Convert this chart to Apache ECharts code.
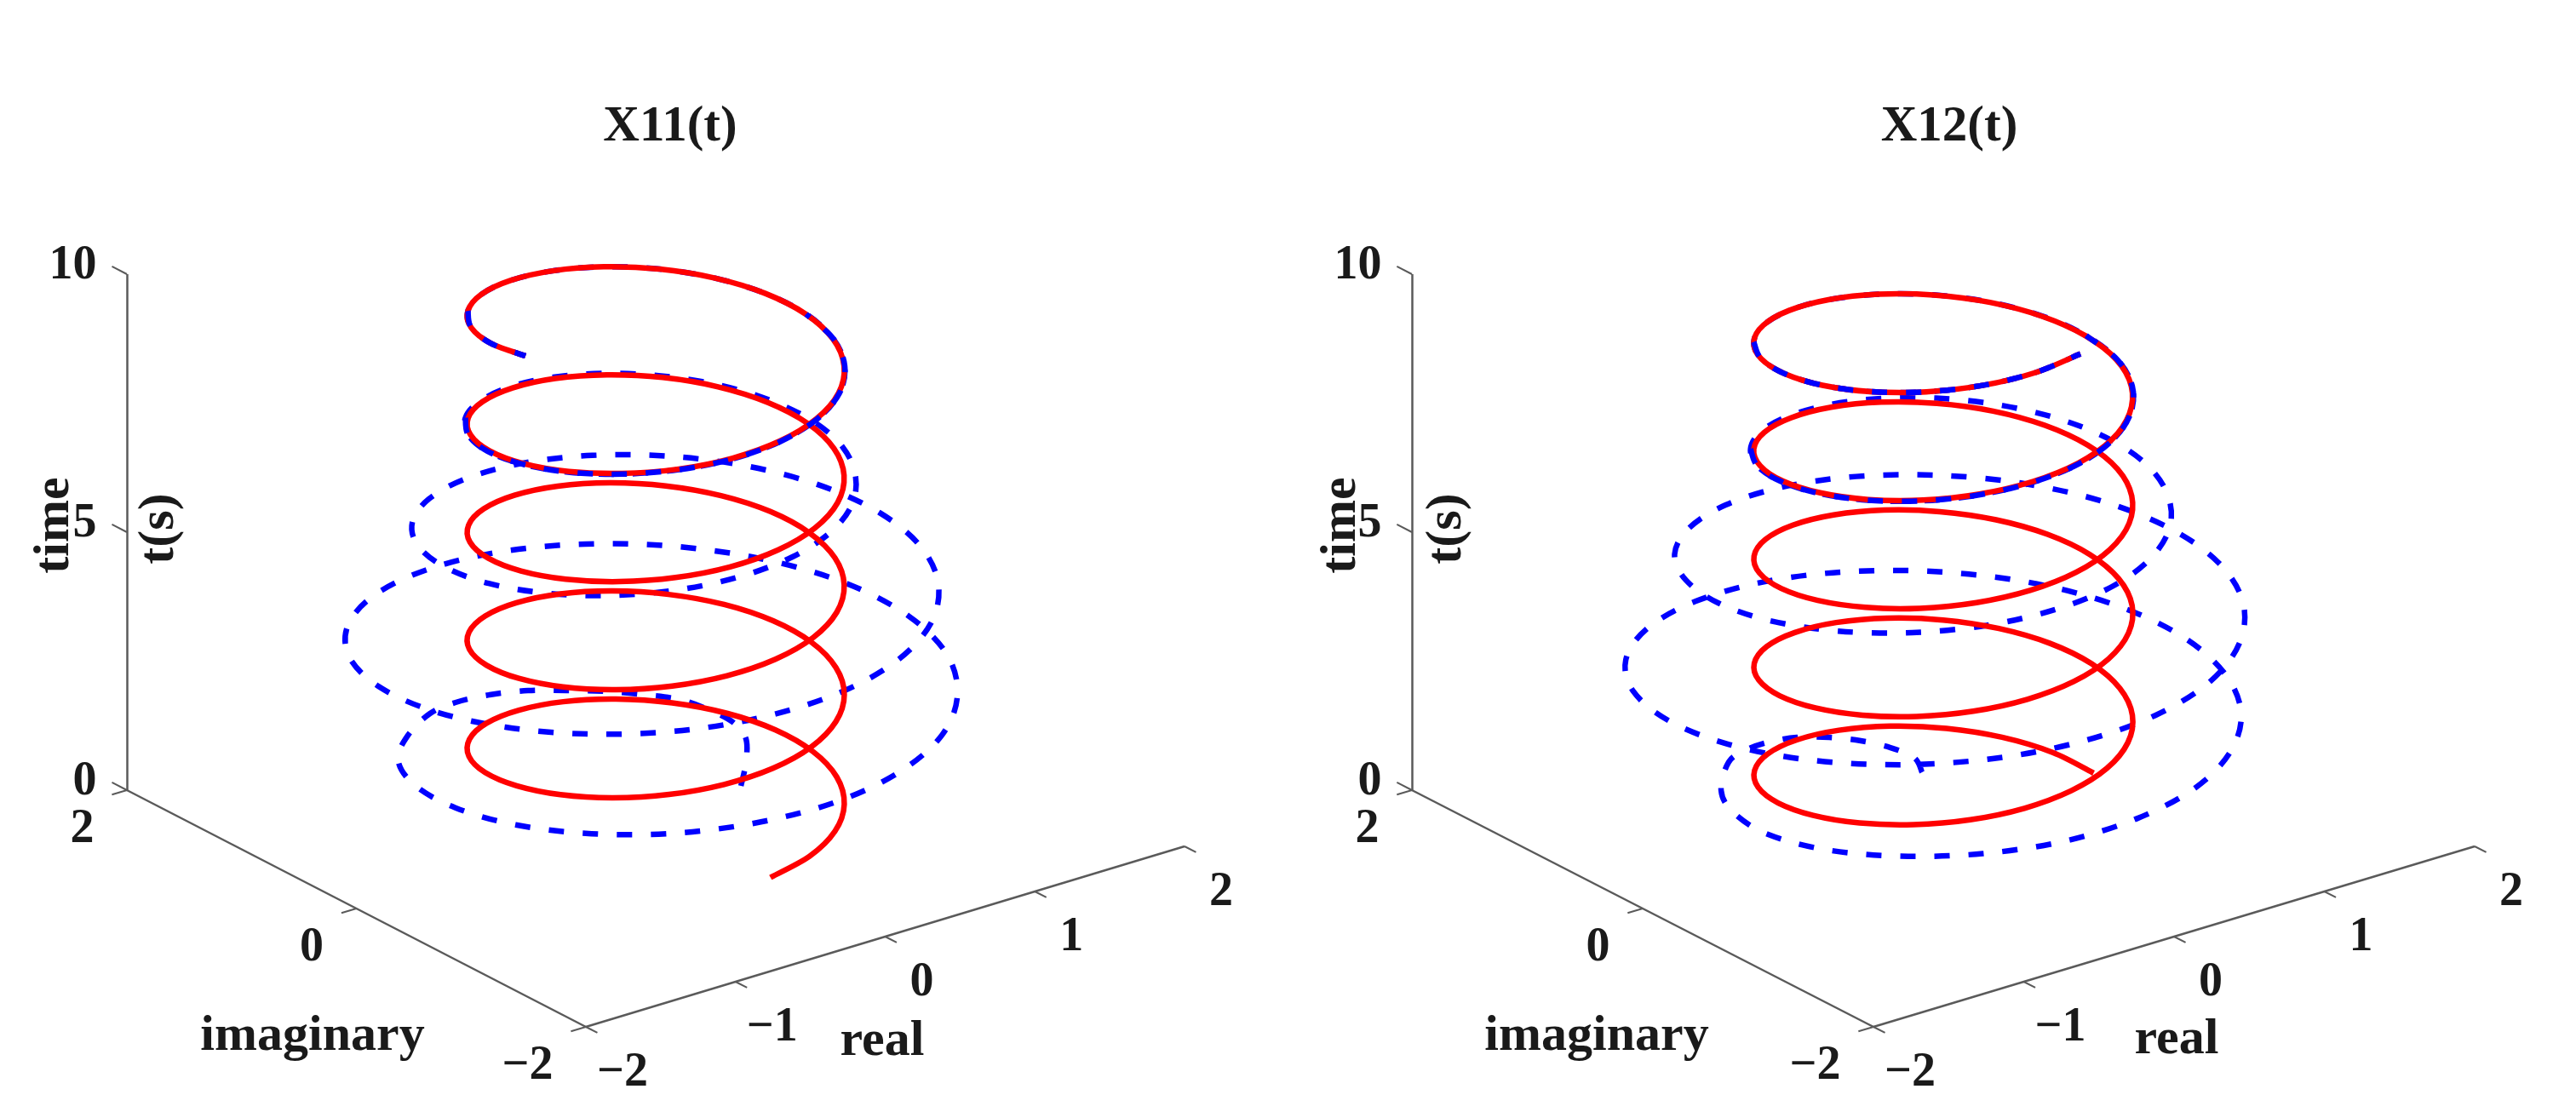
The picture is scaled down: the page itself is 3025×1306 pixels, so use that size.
<!DOCTYPE html>
<html>
<head>
<meta charset="utf-8">
<style>html,body{margin:0;padding:0;background:#fff}#c{width:3025px;height:1306px}</style>
<script src="https://cdn.jsdelivr.net/npm/echarts@6/dist/echarts.min.js"></script>
</head>
<body>
<div id="c"></div>
<script>
const titles = ['X11(t)', 'X12(t)'];
const realTicks = [-2, -1, 0, 1, 2];
const imagTicks = [-2, 0, 2];
const timeTicks = [0, 5, 10];

const time = [0,0.1,0.2,0.3,0.4,0.5,0.6,0.7,0.8,0.9,1,1.1,1.2,1.3,1.4,1.5,1.6,1.7,1.8,1.9,2,2.1,2.2,2.3,2.4,2.5,2.6,2.7,2.8,2.9,3,3.1,3.2,3.3,3.4,3.5,3.6,3.7,3.8,3.9,4,4.1,4.2,4.3,4.4,4.5,4.6,4.7,4.8,4.9,5,5.1,5.2,5.3,5.4,5.5,5.6,5.7,5.8,5.9,6,6.1,6.2,6.3,6.4,6.5,6.6,6.7,6.8,6.9,7,7.1,7.2,7.3,7.4,7.5,7.6,7.7,7.8,7.9,8,8.1,8.2,8.3,8.4,8.5,8.6,8.7,8.8,8.9,9,9.1,9.2,9.3,9.4,9.5,9.6,9.7,9.8,9.9,10];

const x11RedReal = [0,.296,.565,.783,.932,.997,.974,.863,.675,.427,.141,-.158,-.443,-.688,-.872,-.978,-.996,-.926,-.773,-.551,-.279,.017,.312,.579,.794,.938,.999,.970,.855,.661,.412,.125,-.175,-.458,-.700,-.880,-.981,-.995,-.920,-.762,-.537,-.263,.033,.328,.592,.804,.944,.999,.966,.846,.650,.397,.108,-.191,-.473,-.712,-.888,-.984,-.993,-.913,-.751,-.522,-.248,.050,.343,.605,.813,.949,1,.961,.837,.638,.382,.092,-.207,-.488,-.724,-.895,-.987,-.991,-.906,-.738,-.507,-.232,.067,.359,.619,.823,.954,1,.956,.827,.625,.366,.075,-.223,-.503,-.735,-.902,-.989,-.988];
const x11RedImag = [-1,-.955,-.825,-.622,-.362,-.071,.227,.505,.737,.904,.990,.987,.897,.726,.490,.211,-.087,-.378,-.635,-.835,-.960,-1,-.950,-.815,-.608,-.347,-.054,.243,.519,.750,.911,.993,.985,.889,.714,.476,.194,-.104,-.393,-.648,-.844,-.965,-1,-.945,-.806,-.594,-.331,-.037,.260,.534,.760,.918,.995,.982,.881,.702,.460,.178,-.121,-.408,-.660,-.853,-.970,-.999,-.939,-.796,-.581,-.315,-.021,.276,.548,.771,.924,.996,.978,.873,.690,.446,.162,-.138,-.424,-.672,-.862,-.974,-.998,-.933,-.786,-.568,-.299,-.004,.292,.562,.781,.931,.997,.975,.865,.678,.431,.145,-.154];
const x12RedReal = [1,.955,.825,.622,.362,.071,-.227,-.505,-.737,-.904,-.990,-.987,-.897,-.726,-.490,-.211,.087,.378,.635,.835,.960,1,.950,.815,.608,.347,.054,-.243,-.519,-.750,-.911,-.993,-.985,-.889,-.714,-.476,-.194,.104,.393,.648,.844,.965,1,.945,.806,.594,.331,.037,-.260,-.534,-.760,-.918,-.995,-.982,-.881,-.702,-.460,-.178,.121,.408,.660,.853,.970,.999,.939,.796,.581,.315,.021,-.276,-.548,-.771,-.924,-.996,-.978,-.873,-.690,-.446,-.162,.138,.424,.672,.862,.974,.998,.933,.786,.568,.299,.004,-.292,-.562,-.781,-.931,-.997,-.975,-.865,-.678,-.431,-.145,.154];
const x12RedImag = [0,.296,.565,.783,.932,.997,.974,.863,.675,.427,.141,-.158,-.443,-.688,-.872,-.978,-.996,-.926,-.773,-.551,-.279,.017,.312,.579,.794,.938,.999,.970,.855,.661,.412,.125,-.175,-.458,-.700,-.880,-.981,-.995,-.920,-.762,-.537,-.263,.033,.328,.592,.804,.944,.999,.966,.846,.650,.397,.108,-.191,-.473,-.712,-.888,-.984,-.993,-.913,-.751,-.522,-.248,.050,.343,.605,.813,.949,1,.961,.837,.638,.382,.092,-.207,-.488,-.724,-.895,-.987,-.991,-.906,-.738,-.507,-.232,.067,.359,.619,.823,.954,1,.956,.827,.625,.366,.075,-.223,-.503,-.735,-.902,-.989,-.988];

const x11BlueReal = [.624,.798,.944,.980,.946,.864,.713,.534,.330,.126,-.113,-.361,-.602,-.915,-1.203,-1.379,-1.434,-1.361,-1.156,-.838,-.430,.027,.491,.921,1.270,1.515,1.623,1.586,1.402,1.087,.679,.206,-.289,-.756,-1.154,-1.448,-1.609,-1.624,-1.492,-1.227,-.859,-.416,.051,.505,.900,1.206,1.397,1.459,1.391,1.201,.910,.548,.147,-.256,-.624,-.926,-1.137,-1.240,-1.231,-1.109,-.894,-.608,-.283,.056,.377,.653,.862,.996,1.040,.990,.858,.651,.390,.094,-.211,-.495,-.735,-.906,-.999,-1.001,-.915,-.745,-.511,-.234,.067,.361,.622,.826,.957,1.002,.956,.827,.625,.366,.075,-.223,-.503,-.735,-.902,-.989,-.988];
const x11BlueImag = [.071,.254,.444,.588,.729,.905,1.019,1.127,1.209,1.277,1.300,1.273,1.182,.966,.676,.298,-.125,-.556,-.949,-1.269,-1.478,-1.560,-1.496,-1.296,-.973,-.560,-.088,.397,.851,1.234,1.501,1.638,1.625,1.467,1.177,.783,.318,-.170,-.637,-1.043,-1.350,-1.525,-1.560,-1.455,-1.225,-.891,-.490,-.054,.374,.758,1.064,1.267,1.353,1.316,1.163,.913,.589,.224,-.150,-.496,-.785,-.994,-1.106,-1.119,-1.033,-.860,-.616,-.331,-.022,.284,.562,.786,.942,1.016,.996,.886,.700,.451,.164,-.139,-.428,-.679,-.869,-.982,-1.004,-.938,-.790,-.570,-.300,-.004,.292,.562,.781,.931,.997,.975,.865,.678,.431,.145,-.154];
const x12BlueReal = [.287,.331,.272,.161,.014,-.164,-.373,-.567,-.778,-1.085,-1.257,-1.332,-1.256,-1.038,-.715,-.314,.131,.580,.987,1.315,1.526,1.605,1.539,1.333,1.000,.574,.090,-.406,-.869,-1.260,-1.530,-1.663,-1.645,-1.480,-1.182,-.783,-.317,.169,.635,1.037,1.339,1.515,1.550,1.446,1.217,.885,.488,.054,-.376,-.764,-1.079,-1.285,-1.378,-1.345,-1.189,-.934,-.603,-.230,.154,.508,.805,1.015,1.130,1.139,1.047,.868,.622,.331,.022,-.283,-.559,-.784,-.938,-1.008,-.988,-.882,-.697,-.450,-.163,.139,.427,.676,.866,.979,1.002,.936,.788,.569,.299,.004,-.292,-.562,-.781,-.931,-.997,-.975,-.865,-.678,-.431,-.145,.154];
const x12BlueImag = [.558,.682,.812,.925,1.007,1.056,1.042,.973,.846,.512,.179,-.213,-.620,-.984,-1.273,-1.457,-1.504,-1.421,-1.202,-.868,-.444,.027,.505,.947,1.306,1.552,1.663,1.620,1.432,1.110,.692,.209,-.292,-.763,-1.159,-1.448,-1.604,-1.617,-1.486,-1.219,-.852,-.413,.051,.502,.894,1.198,1.392,1.459,1.396,1.210,.923,.556,.150,-.262,-.639,-.947,-1.163,-1.269,-1.261,-1.137,-.916,-.621,-.289,.057,.382,.659,.870,.996,1.035,.985,.854,.649,.388,.093,-.209,-.493,-.731,-.904,-.995,-.999,-.911,-.742,-.510,-.233,.067,.360,.620,.825,.954,1,.956,.827,.625,.366,.075,-.223,-.503,-.735,-.902,-.989,-.988];

// Time spans where the blue curve shows on top of the red one
const x11BlueOnTop = [[7.6, 8.9], [9.7, 10]];
const x12BlueOnTop = [[7.1, 8.4], [9.2, 10]];

const FONT = '"Liberation Serif", "Times New Roman", serif';
const INK = '#1a1a1a';

// Fixed MATLAB-style view of the box: screen offset per unit of real / imaginary / time
const views = [
  { left: 0,    width: 1512, cx: 770,  re: [175.75, 53], im: [-134.75, 69.5], t: 60.6 },
  { left: 1512, width: 1513, cx: 2282, re: [176.5,  53], im: [-135.5,  69.5], t: 60.6 }
];
const CY = 961, H = 1306;

function project(view, re, im, t) {
  return [re * view.re[0] + im * view.im[0], re * view.re[1] + im * view.im[1] + t * view.t];
}

// A curved path through all the points of a series (smooth line with no clamping at its extremes)
echarts.graphic.registerShape('throughPoints', echarts.graphic.extendShape({
  shape: { points: [] },
  buildPath(ctx, shape) {
    const p = shape.points, n = p.length;
    if (!n) return;
    ctx.moveTo(p[0][0], p[0][1]);
    for (let i = 0; i < n - 1; i++) {
      const a = p[Math.max(i - 1, 0)], b = p[i], c = p[i + 1], d = p[Math.min(i + 2, n - 1)];
      ctx.bezierCurveTo(b[0] + (c[0] - a[0]) / 6, b[1] + (c[1] - a[1]) / 6,
                        c[0] - (d[0] - b[0]) / 6, c[1] - (d[1] - b[1]) / 6, c[0], c[1]);
    }
  }
}));

const panels = [
  { redRe: x11RedReal, redIm: x11RedImag, blueRe: x11BlueReal, blueIm: x11BlueImag, onTop: x11BlueOnTop,
    names: { imag: [367, 1217], real: [1036, 1223], time: [64, 617], ts: [187, 621] } },
  { redRe: x12RedReal, redIm: x12RedImag, blueRe: x12BlueReal, blueIm: x12BlueImag, onTop: x12BlueOnTop,
    names: { imag: [1875, 1217], real: [2556, 1221], time: [1575, 617], ts: [1699, 621] } }
];

const grid = [], xAxis = [], yAxis = [], series = [], graphic = [];

const text = (x, y, s, rot) => ({
  type: 'text', x, y, rotation: rot || 0, z: 20,
  style: { text: s, fill: INK, font: 'bold 60px ' + FONT, align: 'center', verticalAlign: 'middle' }
});

function curveSeries(ax, data, z, style) {
  return {
    type: 'custom', ...ax, z, silent: true, clip: false, animation: false,
    encode: { x: 0, y: 1 },
    data,
    renderItem(params, api) {
      if (params.dataIndex !== 0) return null;
      return {
        type: 'throughPoints',
        shape: { points: data.map((d, k) => api.coord(d)) },
        style: { fill: null, lineCap: 'butt', lineJoin: 'round', ...style }
      };
    }
  };
}

panels.forEach((p, i) => {
  const v = views[i];
  grid.push({ left: v.left, width: v.width, top: 0, height: H });
  xAxis.push({ type: 'value', gridIndex: i, min: v.left - v.cx, max: v.left + v.width - v.cx, show: false });
  yAxis.push({ type: 'value', gridIndex: i, min: CY - H, max: CY, show: false });
  const ax = { xAxisIndex: i, yAxisIndex: i };

  const seg = (a, b) => ({ coords: [project(v, a[0], a[1], a[2]), project(v, b[0], b[1], b[2])] });
  const boxLines = [
    seg([-2, 2, 0], [-2, 2, 10]),
    seg([-2, 2, 0], [-2, -2, 0]),
    seg([-2, -2, 0], [2, -2, 0])
  ];
  const tickLines = [];
  timeTicks.forEach(t => tickLines.push(seg([-2, 2, t], [-2, 2.13, t])));
  imagTicks.forEach(m => tickLines.push(seg([-2, m, 0], [-2.1, m, 0])));
  realTicks.forEach(r => tickLines.push(seg([r, -2, 0], [r, -2.1, 0])));
  series.push({ type: 'lines', coordinateSystem: 'cartesian2d', ...ax, silent: true, z: 1, data: boxLines,
    lineStyle: { color: '#5a5a5a', width: 2.5, opacity: 1 } });
  series.push({ type: 'lines', coordinateSystem: 'cartesian2d', ...ax, silent: true, z: 1, data: tickLines,
    lineStyle: { color: '#5a5a5a', width: 2, opacity: 1 } });

  const curve = (re, im) => time.map((t, k) => project(v, re[k], im[k], t));
  const blueStyle = { stroke: '#0000ff', lineWidth: 6.5, lineDash: [18, 22] };
  const bluePts = curve(p.blueRe, p.blueIm);
  series.push(curveSeries(ax, bluePts, 3, blueStyle));
  series.push(curveSeries(ax, curve(p.redRe, p.redIm), 4, { stroke: '#ff0000', lineWidth: 6.5 }));
  p.onTop.forEach(span => {
    series.push(curveSeries(ax, bluePts.filter((pt, k) => time[k] >= span[0] && time[k] <= span[1]), 5, blueStyle));
  });

  const tickLabel = (data, label) => ({
    type: 'scatter', ...ax, z: 10, silent: true, symbolSize: 1, itemStyle: { color: 'transparent', opacity: 1 },
    data, label: { show: true, color: INK, opacity: 1, fontFamily: FONT, fontWeight: 'bold', fontSize: 56,
      formatter: o => o.data[2], ...label }
  });
  const lab = (val, a) => { const q = project(v, a[0], a[1], a[2]); return [q[0], q[1], String(val).replace('-', '\u2212')]; };
  series.push(tickLabel(timeTicks.map(t => lab(t, [-2, 2, t])), { position: 'left', distance: 35, offset: [0, -9] }));
  series.push(tickLabel(imagTicks.map(m => lab(m, [-2, m, 0])), { position: 'left', distance: 38, offset: [0, 47] }));
  series.push(tickLabel(realTicks.map(r => lab(r, [r, -2, 0])), { position: 'inside', offset: [43, 55] }));

  graphic.push(text(p.names.imag[0], p.names.imag[1], 'imaginary'));
  graphic.push(text(p.names.real[0], p.names.real[1], 'real'));
  graphic.push(text(p.names.time[0], p.names.time[1], 'time', Math.PI / 2));
  graphic.push(text(p.names.ts[0], p.names.ts[1], 't(s)', Math.PI / 2));
});

const titleStyle = { color: INK, fontFamily: FONT, fontWeight: 'bold', fontSize: 59 };
const chart = echarts.init(document.getElementById('c'), null, { renderer: 'canvas' });
chart.setOption({
  animation: false,
  backgroundColor: '#ffffff',
  title: [
    { text: titles[0], left: 782, top: 145, textAlign: 'center', textVerticalAlign: 'middle', textStyle: titleStyle },
    { text: titles[1], left: 2284, top: 145, textAlign: 'center', textVerticalAlign: 'middle', textStyle: titleStyle }
  ],
  grid, xAxis, yAxis, series, graphic
});
</script>
</body>
</html>
